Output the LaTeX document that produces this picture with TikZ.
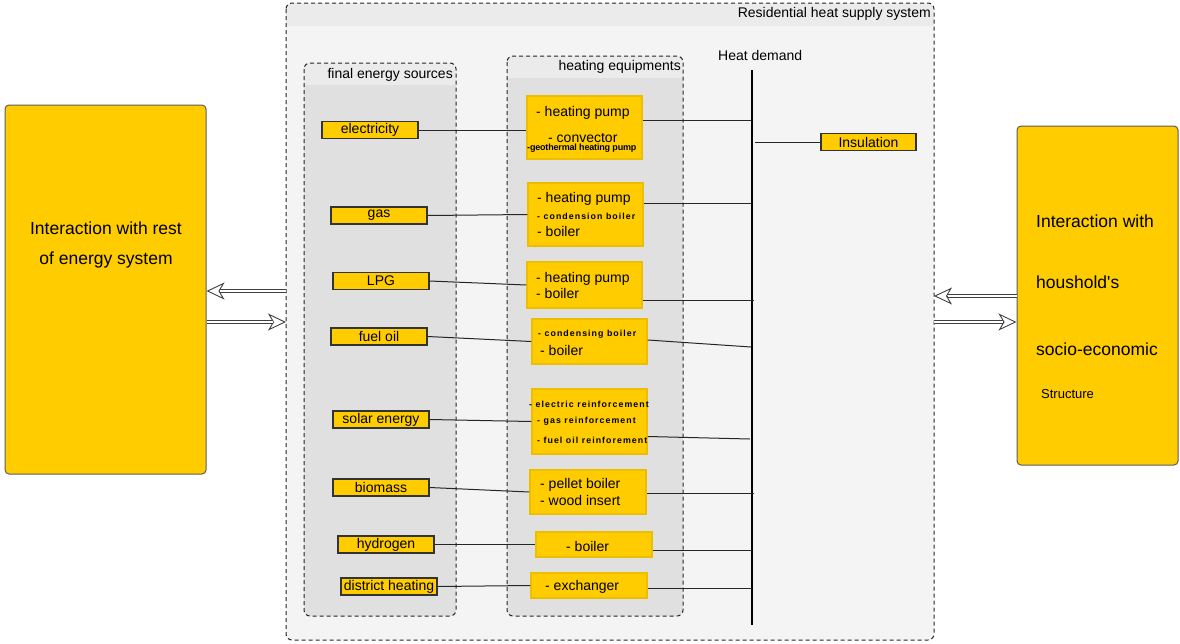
\documentclass[tikz,border=0pt]{standalone}
\usepackage{fontspec}
\setmainfont{Liberation Sans}
\usetikzlibrary{arrows.meta}
\definecolor{gold}{HTML}{FFCC00}
\definecolor{goldedge}{HTML}{EDBE00}
\definecolor{bodyfill}{HTML}{F4F4F4}
\definecolor{bandfill}{HTML}{EBEBEB}
\definecolor{panelfill}{HTML}{E0E0E0}
\definecolor{edge}{HTML}{333333}
\tikzset{
  srcbox/.style={draw=edge, line width=1.2pt, fill=gold, inner sep=0pt, minimum width=96pt, minimum height=17pt, font=\fontsize{14}{16}\selectfont},
  eqbox/.style={draw=goldedge, line width=1.5pt, fill=gold, inner sep=0pt},
  bigbox/.style={draw=edge!80, line width=1pt, fill=gold, rounded corners=4pt, inner sep=0pt},
  dashbox/.style={draw=black!85, line width=1pt, dash pattern=on 4pt off 3pt, rounded corners=6pt},
  conn/.style={draw=black!85, line width=1pt},
  headtip/.style={draw=black!75, line width=0.9pt, -{Stealth[open, fill=white, length=18pt, width=17pt, inset=5pt]}},
  shaft/.style={draw=black!75, line width=0.9pt, double=white, double distance=2.4pt, shorten >=13.5pt},
  txt/.style={inner sep=0pt, font=\fontsize{14}{16}\selectfont},
  bigtxt/.style={inner sep=0pt, font=\fontsize{17.5}{20}\selectfont},
  smtxt/.style={inner sep=0pt, font=\fontsize{8.8}{10}\selectfont\bfseries\addfontfeature{LetterSpace=12}},
  tinytxt/.style={inner sep=0pt, font=\fontsize{9}{9}\selectfont\bfseries\addfontfeature{LetterSpace=-2}}
}
\begin{document}
\begin{tikzpicture}[x=1pt,y=-1pt]
\useasboundingbox (0,0) rectangle (1180,643);
\fill[white] (0,0) rectangle (1180,643);
% main container
\fill[bodyfill, rounded corners=6pt] (286,3) rectangle (934,640);
\begin{scope}
\clip[rounded corners=6pt] (286,3) rectangle (934,640);
\fill[bandfill] (286,3) rectangle (934,26);
\end{scope}
\draw[dashbox] (286,3) rectangle (934,640);
\node[txt, anchor=east] (ttlmain) at (931,14) {Residential heat supply system};
% final energy sources panel
\fill[panelfill, rounded corners=6pt] (304,63) rectangle (456,616);
\begin{scope}
\clip[rounded corners=6pt] (304,63) rectangle (456,616);
\fill[bandfill] (304,63) rectangle (456,85);
\end{scope}
\draw[dashbox] (304,63) rectangle (456,616);
\node[txt, anchor=east] (ttlfes) at (453,75) {final energy sources};
% heating equipments panel
\fill[panelfill, rounded corners=6pt] (507,56) rectangle (683,616);
\begin{scope}
\clip[rounded corners=6pt] (507,56) rectangle (683,616);
\fill[bandfill] (507,56) rectangle (683,78);
\end{scope}
\draw[dashbox] (507,56) rectangle (683,616);
\node[txt, anchor=east] (ttlheq) at (681,67) {heating equipments};
% heat demand
\coordinate (hdtop) at (752,70);
\coordinate (hdbot) at (752,625);
\draw[line width=2.6pt] (hdtop) -- (hdbot);
\node[txt, anchor=west] (hdlbl) at (718,55) {Heat demand};
% insulation
\node[srcbox, minimum width=95pt] (ins) at (868.5,142) {Insulation};
\coordinate (insj) at (755,142);
\draw[conn] (insj) -- (ins.west);
% source boxes
\node[srcbox] (e1) at (370,130) {electricity};
\node[srcbox] (e2) at (379,215.5) {gas};
\node[srcbox] (e3) at (381,281) {LPG};
\node[srcbox] (e4) at (379,336.5) {fuel oil};
\node[srcbox] (e5) at (381,419.5) {solar energy};
\node[srcbox] (e6) at (381,487.5) {biomass};
\node[srcbox] (e7) at (386,544.5) {hydrogen};
\node[srcbox] (e8) at (389,586.5) {district heating};
% equipment boxes
\node[eqbox, minimum width=115pt, minimum height=63pt] (q1) at (584.5,127.5) {};
\node[eqbox, minimum width=115pt, minimum height=63pt] (q2) at (585.5,214.5) {};
\node[eqbox, minimum width=115pt, minimum height=46pt] (q3) at (584.5,285) {};
\node[eqbox, minimum width=115pt, minimum height=45pt] (q4) at (589.5,341.5) {};
\node[eqbox, minimum width=115pt, minimum height=65pt] (q5) at (589.5,421.5) {};
\node[eqbox, minimum width=116pt, minimum height=44pt] (q6) at (588,492) {};
\node[eqbox, minimum width=116pt, minimum height=25pt] (q7) at (594,544.5) {};
\node[eqbox, minimum width=116pt, minimum height=25pt] (q8) at (589,585.5) {};
% equipment texts
\node[txt, anchor=west] (t1a) at (536,113) {- heating pump};
\node[txt, anchor=west] (t1b) at (548,138) {- convector};
\node[tinytxt, anchor=west] (t1c) at (527,148) {-geothermal heating pump};
\node[txt, anchor=west] (t2a) at (537,199) {- heating pump};
\node[smtxt, anchor=west] (t2b) at (537,216) {- condension boiler};
\node[txt, anchor=west] (t2c) at (537,231) {- boiler};
\node[txt, anchor=west] (t3a) at (536,279) {- heating pump};
\node[txt, anchor=west] (t3b) at (536,293) {- boiler};
\node[smtxt, anchor=west] (t4a) at (538,334) {- condensing boiler};
\node[txt, anchor=west] (t4b) at (540,350) {- boiler};
\node[smtxt, anchor=west] (t5a) at (529,404) {- electric reinforcement};
\node[smtxt, anchor=west] (t5b) at (537,421) {- gas reinforcement};
\node[smtxt, anchor=west] (t5c) at (537,440) {- fuel oil reinforement};
\node[txt, anchor=west] (t6a) at (540,485) {- pellet boiler};
\node[txt, anchor=west] (t6b) at (540,500) {- wood insert};
\node[txt, anchor=west] (t7a) at (566,546) {- boiler};
\node[txt, anchor=west] (t8a) at (545,587) {- exchanger};
% source -> equipment
\draw[conn] (e1.east) -- (e1.east -| q1.west);
\draw[conn] (e2.east) -- (q2.west);
\draw[conn] (e3.east) -- (q3.west);
\draw[conn] (e4.east) -- (q4.west);
\draw[conn] (e5.east) -- (q5.west);
\draw[conn] (e6.east) -- (q6.west);
\draw[conn] (e7.east) -- (q7.west);
\draw[conn] (e8.east) -- (q8.west);
% equipment -> heat demand
\coordinate (h1) at (751,120);
\coordinate (h2) at (751,203);
\coordinate (h3) at (754,300);
\coordinate (h4) at (751,347);
\coordinate (h5) at (750,439);
\coordinate (h6) at (754,493);
\coordinate (h7) at (752,550);
\coordinate (h8) at (752,588);
\draw[conn] (h1 -| q1.east) -- (h1);
\draw[conn] (h2 -| q2.east) -- (h2);
\draw[conn] (h3 -| q3.east) -- (h3);
\draw[conn] ([yshift=1.5pt]q4.east) -- (h4);
\draw[conn] ([yshift=-15pt]q5.east) -- (h5);
\draw[conn] (h6 -| q6.east) -- (h6);
\draw[conn] (h7 -| q7.east) -- (h7);
\draw[conn] (h8 -| q8.east) -- (h8);
% left big box
\node[bigbox, minimum width=201pt, minimum height=369pt] (lbox) at (105.5,289.5) {};
\node[bigtxt] (l1) at (106,228) {Interaction with rest};
\node[bigtxt] (l2) at (106,260) {of energy system};
% right big box
\node[bigbox, minimum width=161pt, minimum height=339pt] (rbox) at (1097.5,295.5) {};
\node[bigtxt, anchor=west] (r1) at (1036,221) {Interaction with};
\node[bigtxt, anchor=west] (r2) at (1036,282) {houshold\textquotesingle s};
\node[bigtxt, anchor=west] (r3) at (1036,349) {socio-economic};
\node[txt, anchor=west, font=\fontsize{13}{15}\selectfont] (r4) at (1041,394) {Structure};
% arrows
\coordinate (aL1) at (286,291);
\coordinate (aL2) at (286,322);
\coordinate (aR1) at (934,296);
\coordinate (aR2) at (934,322);
\draw[headtip] (aL1) -- (aL1 -| lbox.east);
\draw[shaft] (aL1) -- (aL1 -| lbox.east);
\draw[headtip] (aL2 -| lbox.east) -- (aL2);
\draw[shaft] (aL2 -| lbox.east) -- (aL2);
\draw[headtip] (aR1 -| rbox.west) -- (aR1);
\draw[shaft] (aR1 -| rbox.west) -- (aR1);
\draw[headtip] (aR2) -- (aR2 -| rbox.west);
\draw[shaft] (aR2) -- (aR2 -| rbox.west);
\end{tikzpicture}
\end{document}
